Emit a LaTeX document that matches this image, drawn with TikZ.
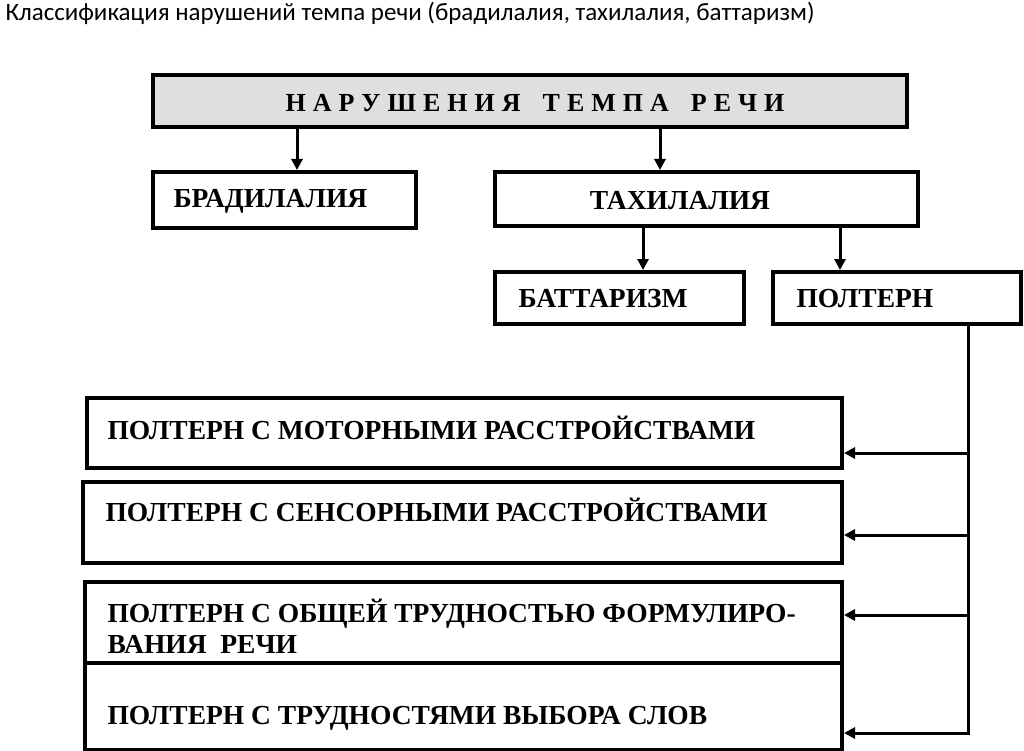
\documentclass[tikz,border=0pt]{standalone}
\usepackage{fontspec}
\setmainfont{Liberation Serif}
\newfontfamily\titlefont{Carlito}
\usetikzlibrary{arrows.meta}
\begin{document}
\begin{tikzpicture}[x=1pt,y=-1pt,
  bx/.style={draw,line width=4pt,inner sep=0pt},
  lbl/.style={font=\fontsize{27.5}{31}\selectfont\bfseries,anchor=west,align=left},
  arr/.style={line width=3pt,-{Triangle[length=11pt,width=11pt]}}]
\useasboundingbox (0,0) rectangle (1024,751);
\node[anchor=west,font=\titlefont\fontsize{25}{28}\selectfont] (title) at (2,13) {Классификация нарушений темпа речи (брадилалия, тахилалия, баттаризм)};
\draw[bx,fill=gray!25] (153,75) rectangle (907,127);
\node[font=\fontsize{26}{30}\selectfont\bfseries] (toplbl) at (535,103) {Н\kern7pt А\kern7pt Р\kern7pt У\kern7pt Ш\kern7pt Е\kern7pt Н\kern7pt И\kern7pt Я\kern22pt Т\kern7pt Е\kern7pt М\kern7pt П\kern7pt А\kern22pt Р\kern7pt Е\kern7pt Ч\kern7pt И};
\draw[bx] (153,172) rectangle (416,228);
\node[lbl] (brad) at (170,201) {БРАДИЛАЛИЯ};
\draw[bx] (495,172) rectangle (918,226);
\node[font=\fontsize{27.5}{31}\selectfont\bfseries] (tah) at (680,201) {ТАХИЛАЛИЯ};
\draw[bx] (495,272) rectangle (744,324);
\node[lbl] (bat) at (515,299) {БАТТАРИЗМ};
\draw[bx] (773,272) rectangle (1021,324);
\node[lbl] (pol) at (793,299) {ПОЛТЕРН};
\draw[bx] (87,398) rectangle (842,468);
\node[lbl] (p1) at (104,428) {ПОЛТЕРН С МОТОРНЫМИ РАССТРОЙСТВАМИ};
\draw[bx] (83,482) rectangle (842,563);
\node[lbl] (p2) at (102,510) {ПОЛТЕРН С СЕНСОРНЫМИ РАССТРОЙСТВАМИ};
\draw[bx] (85,582) rectangle (842,663);
\node[lbl] (p3) at (104,626) {ПОЛТЕРН С ОБЩЕЙ ТРУДНОСТЬЮ ФОРМУЛИРО-\\ВАНИЯ\ \ РЕЧИ};
\draw[bx] (85,663) rectangle (842,750);
\node[lbl] (p4) at (104,718) {ПОЛТЕРН С ТРУДНОСТЯМИ ВЫБОРА СЛОВ};
\coordinate (a1) at (297,127); \coordinate (b1) at (297,170);
\coordinate (a2) at (660,127); \coordinate (b2) at (660,170);
\coordinate (a3) at (643,226); \coordinate (b3) at (643,270);
\coordinate (a4) at (840,226); \coordinate (b4) at (840,270);
\draw[arr] (a1)--(b1); \draw[arr] (a2)--(b2);
\draw[arr] (a3)--(b3); \draw[arr] (a4)--(b4);
\coordinate (v0) at (968,324); \coordinate (v1) at (968,735);
\draw[line width=3pt] (v0)--(v1);
\foreach \yy/\n in {453/1,535/2,615/3,733/4}{
  \coordinate (s\n) at (969.5,\yy); \coordinate (e\n) at (844,\yy);
  \draw[arr] (s\n)--(e\n);}
\end{tikzpicture}
\end{document}
